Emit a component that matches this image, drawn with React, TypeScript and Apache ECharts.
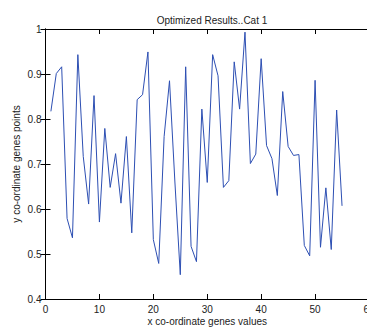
import React, { useEffect, useRef } from "react";
import * as echarts from "echarts";

const titleText = "Optimized Results..Cat 1";
const xName = "x co-ordinate genes values";
const yName = "y co-ordinate genes points";
const xValues = [
  1, 2, 3, 4, 5, 6, 7, 8, 9, 10, 11, 12, 13, 14, 15, 16, 17, 18, 19, 20, 21, 22, 23, 24, 25, 26, 27, 28,
  29, 30, 31, 32, 33, 34, 35, 36, 37, 38, 39, 40, 41, 42, 43, 44, 45, 46, 47, 48, 49, 50, 51, 52, 53, 54, 55,
];
const yValues = [
  0.817, 0.901, 0.916, 0.579, 0.536, 0.943, 0.717, 0.611, 0.852, 0.571, 0.779, 0.648, 0.723, 0.613, 0.761,
  0.547, 0.843, 0.854, 0.949, 0.532, 0.479, 0.761, 0.885, 0.66, 0.454, 0.916, 0.517, 0.483, 0.822, 0.659,
  0.943, 0.896, 0.648, 0.663, 0.927, 0.822, 0.993, 0.701, 0.722, 0.934, 0.741, 0.712, 0.63, 0.861, 0.739,
  0.719, 0.721, 0.519, 0.496, 0.886, 0.515, 0.647, 0.51, 0.82, 0.607,
];

const FONT = "Liberation Sans, Arial, Helvetica, sans-serif";

export default function App() {
  const ref = useRef<HTMLDivElement>(null);
  useEffect(() => {
    if (!ref.current) return;
    const chart = echarts.init(ref.current, undefined, { renderer: "svg" });
    const axisCommon = {
      axisLine: { show: true, lineStyle: { color: "#000", width: 1 } },
      axisTick: { show: true, inside: true, length: 5, lineStyle: { color: "#000", width: 1 } },
      splitLine: { show: false },
    };
    chart.setOption({
      animation: false,
      backgroundColor: "#fff",
      title: {
        text: titleText,
        left: 207,
        top: 10,
        textAlign: "center",
        textStyle: { fontFamily: FONT, fontSize: 10, fontWeight: "normal", color: "#222" },
      },
      grid: { left: 45.5, right: 0, top: 29, bottom: 28, containLabel: false, outerBoundsMode: "none" },
      xAxis: [
        {
          type: "value",
          min: 0,
          max: 60,
          interval: 10,
          position: "bottom",
          name: xName,
          nameLocation: "middle",
          nameGap: 17,
          nameMoveOverlap: false,
          nameTextStyle: { fontFamily: FONT, fontSize: 10, color: "#222" },
          axisLabel: { fontFamily: FONT, fontSize: 10, color: "#222", margin: 5 },
          ...axisCommon,
        },
        {
          type: "value",
          min: 0,
          max: 60,
          interval: 10,
          position: "top",
          axisLabel: { show: false },
          ...axisCommon,
        },
      ],
      yAxis: [
        {
          type: "value",
          min: 0.4,
          max: 1,
          interval: 0.1,
          position: "left",
          name: yName,
          nameLocation: "middle",
          nameRotate: 90,
          nameGap: 24,
          nameMoveOverlap: false,
          nameTextStyle: { fontFamily: FONT, fontSize: 10, color: "#222" },
          axisLabel: {
            fontFamily: FONT,
            fontSize: 10,
            color: "#222",
            margin: 4,
            formatter: (v: number) => String(Math.round(v * 10) / 10),
          },
          ...axisCommon,
        },
        {
          type: "value",
          min: 0.4,
          max: 1,
          interval: 0.1,
          position: "right",
          axisLabel: { show: false },
          ...axisCommon,
        },
      ],
      series: [
        {
          type: "line",
          data: xValues.map((x, i) => [x, yValues[i]]),
          showSymbol: false,
          symbol: "none",
          lineStyle: { color: "#2d4fb3", width: 1 },
          xAxisIndex: 0,
          yAxisIndex: 0,
        },
      ],
    });
    return () => chart.dispose();
  }, []);
  return (
    <div style={{ position: "absolute", left: 0, top: 0, width: 367, height: 327, overflow: "hidden", background: "#fff" }}>
      <div ref={ref} style={{ width: 369, height: 327 }} />
    </div>
  );
}
